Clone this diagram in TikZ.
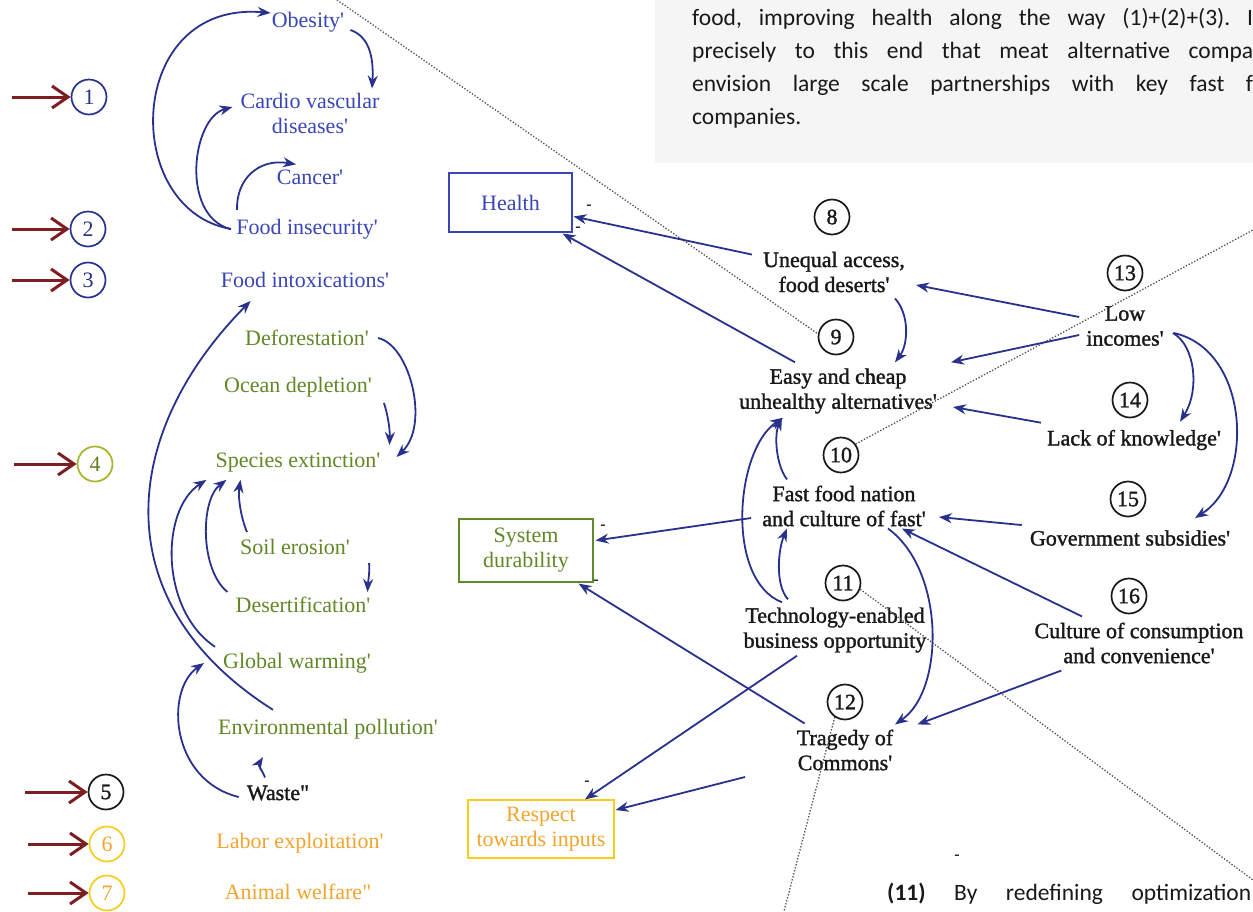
\documentclass[tikz,border=0pt]{standalone}
\usepackage{fontspec}
\setmainfont{Liberation Serif}[Ligatures=TeXOff]
\newfontfamily\heavyserif{Liberation Serif}[Ligatures=TeXOff, FakeBold=1.4]
\newfontfamily\parafont{Carlito}[Ligatures=TeXOff]
\usetikzlibrary{arrows.meta}

\definecolor{navy}{RGB}{40,50,140}
\definecolor{lblblue}{RGB}{58,70,182}
\definecolor{lblgreen}{RGB}{98,135,38}
\definecolor{boxgreen}{RGB}{95,140,40}
\definecolor{circgreen}{RGB}{165,180,40}
\definecolor{digitgreen}{RGB}{105,125,35}
\definecolor{lblorange}{RGB}{242,165,45}
\definecolor{circyellow}{RGB}{245,205,30}
\definecolor{darkred}{RGB}{125,30,35}
\definecolor{ink}{RGB}{25,25,25}
\definecolor{dotgray}{RGB}{80,80,80}

\tikzset{
  lbl/.style={inner sep=0pt, font=\fontsize{22}{25}\selectfont, align=center},
  cause/.style={lbl, text=ink, font=\heavyserif\fontsize{22}{25}\selectfont},
  num/.style={circle, draw, line width=1.7pt, minimum size=35pt, inner sep=0pt,
              font=\fontsize{22}{25}\selectfont},
  knum/.style={num, draw=ink, text=ink, font=\heavyserif\fontsize{22}{25}\selectfont},
  infl/.style={draw=navy, line width=1.8pt, -{Stealth[length=13pt,width=10pt]}},
  entry/.style={draw=darkred, line width=3pt, -{Straight Barb[length=16pt,width=22pt]}},
  outcome/.style={draw, line width=1.2pt, inner sep=0pt, font=\fontsize{22}{25}\selectfont,
                  align=center},
  link/.style={draw=dotgray, line width=1.3pt, dash pattern=on 1.3pt off 1.8pt},
  minus/.style={inner sep=0pt, text=ink, font=\bfseries\fontsize{16}{16}\selectfont},
  para/.style={inner sep=0pt, anchor=base west, text=ink,
               font=\parafont\frenchspacing\fontsize{23.5}{28}\selectfont},
}

\begin{document}
\begin{tikzpicture}[x=1pt, y=-1pt]
\useasboundingbox (0,0) rectangle (1253,911);
\clip (0,0) rectangle (1253,911);
\fill[white] (0,0) rectangle (1253,911);

% ---------- running text of the page ----------
\fill[black!4] (655,0) rectangle (1253,163);
\node[para] (p1) at (692,25) {\makebox[561pt][s]{food, improving health along the way (1)+(2)+(3). I}};
\node[para] (p2) at (692,58) {\makebox[561pt][s]{precisely to this end that meat alternative compa}};
\node[para] (p3) at (692,91) {\makebox[561pt][s]{envision large scale partnerships with key fast f}};
\node[para] (p4) at (692,124) {companies.};
\node[para] (p5) at (887,900) {\makebox[364pt][s]{\textbf{(11)} By redefining optimization}};

% ---------- left column: numbered entry points ----------
\node[num, draw=navy, text=navy] (c1) at (89,97) {1};
\node[num, draw=navy, text=navy] (c2) at (88,229) {2};
\node[num, draw=navy, text=navy] (c3) at (88,280) {3};
\node[num, draw=circgreen, text=digitgreen] (c4) at (95,464) {4};
\node[knum] (c5) at (106,792) {5};
\node[num, draw=circyellow, text=lblorange] (c6) at (107,844) {6};
\node[num, draw=circyellow, text=lblorange] (c7) at (107,893) {7};

\coordinate (r1) at (12,97);
\coordinate (r2) at (12,229);
\coordinate (r3) at (12,280);
\coordinate (r4) at (14,464);
\coordinate (r5) at (25,792);
\coordinate (r6) at (28,844);
\coordinate (r7) at (28,893);
\draw[entry] (r1) -- (c1.west);
\draw[entry] (r2) -- (c2.west);
\draw[entry] (r3) -- (c3.west);
\draw[entry] (r4) -- (c4.west);
\draw[entry] (r5) -- (c5.west);
\draw[entry] (r6) -- (c6.west);
\draw[entry] (r7) -- (c7.west);

% ---------- left column: effects ----------
\node[lbl, text=lblblue] (ob) at (308,22) {Obesity'};
\node[lbl, text=lblblue] (cv) at (310,113) {Cardio vascular\\diseases'};
\node[lbl, text=lblblue] (ca) at (310,177) {Cancer'};
\node[lbl, text=lblblue] (fi) at (307,229) {Food insecurity'};
\node[lbl, text=lblblue] (fx) at (305,280) {Food intoxications'};
\node[lbl, text=lblgreen] (df) at (307,338) {Deforestation'};
\node[lbl, text=lblgreen] (od) at (298,387) {Ocean depletion'};
\node[lbl, text=lblgreen] (se) at (298,463) {Species extinction'};
\node[lbl, text=lblgreen] (so) at (295,547) {Soil erosion'};
\node[lbl, text=lblgreen] (ds) at (303,605) {Desertification'};
\node[lbl, text=lblgreen] (gw) at (297,663) {Global warming'};
\node[lbl, text=lblgreen] (ep) at (328,729) {Environmental pollution'};
\node[cause] (wa) at (278,793) {Waste"};
\node[lbl, text=lblorange] (le) at (300,843) {Labor exploitation'};
\node[lbl, text=lblorange] (aw) at (298,892) {Animal welfare"};

% health links
\draw[infl] ([shift={(-5,0)}]fi.west) .. controls (120,210) and (125,0) .. ([shift={(-1,-9)}]ob.west);
\draw[infl] ([shift={(6,8)}]ob.east) .. controls (368,36) and (374,55) .. ([shift={(62,-4)}]cv.north);
\draw[infl] ([shift={(-6,0)}]fi.west) .. controls (180,215) and (192,118) .. ([shift={(-8,-6)}]cv.west);
\draw[infl] ([shift={(1,-9)}]fi.north west) .. controls (236,180) and (258,158) .. ([shift={(-14,-5)}]ca.north);

% environment links
\draw[infl] ([shift={(-55,-9)}]ep.north) .. controls (100,600) and (123,430) .. ([shift={(30,13)}]fx.south west);
\draw[infl] ([shift={(9,0)}]df.east) .. controls (410,345) and (430,425) .. ([shift={(16,-6)}]se.east);
\draw[infl] ([shift={(12,16)}]od.east) .. controls (388,415) and (390,430) .. ([shift={(9,-18)}]se.east);
\draw[infl] ([shift={(7,-7)}]so.north west) .. controls (240,515) and (238,495) .. ([shift={(25,7)}]se.south west);
\draw[infl] ([shift={(-8,-5)}]ds.north west) .. controls (200,570) and (200,500) .. ([shift={(11,7)}]se.south west);
\draw[infl] ([shift={(-8,-6)}]gw.north west) .. controls (160,610) and (160,510) .. ([shift={(-9,7)}]se.south west);
\draw[infl] ([shift={(19,16)}]so.east) .. controls (370,572) and (368,582) .. ([shift={(-3,-5)}]ds.north east);
\draw[infl] ([shift={(-8,4)}]wa.west) .. controls (170,780) and (165,690) .. ([shift={(-19,0)}]gw.west);
\draw[infl] ([shift={(-13,-8)}]wa.north) .. controls (262,770) and (258,765) .. ([shift={(45,18)}]ep.south west);

% ---------- outcome boxes ----------
\node[outcome, draw=lblblue, text=lblblue, minimum width=123pt, minimum height=59pt] (health) at (510.5,202.5) {Health};
\node[outcome, draw=boxgreen, text=lblgreen, minimum width=134pt, minimum height=63pt] (sd) at (526,550.5) {System\\durability};
\node[outcome, draw=circyellow, text=lblorange, minimum width=146pt, minimum height=58pt] (rt) at (541,829) {Respect\\towards inputs};

\node[minus] (m1) at (589,207) {-};
\node[minus] (m2) at (578,229) {-};
\node[minus] (m3) at (603,527) {-};
\node[minus] (m4) at (596,582) {-};
\node[minus] (m5) at (587,783) {-};
\node[minus] (m6) at (957,857) {-};

% ---------- right side: root causes ----------
\node[knum] (n8) at (832,217) {8};
\node[knum] (n9) at (836,337) {9};
\node[knum] (n10) at (841,455) {10};
\node[knum] (n11) at (843,583) {11};
\node[knum] (n12) at (845,702) {12};
\node[knum] (n13) at (1125,273) {13};
\node[knum] (n14) at (1130,400) {14};
\node[knum] (n15) at (1128,499) {15};
\node[knum] (n16) at (1129,596) {16};

\node[cause] (ua) at (834,272) {Unequal access,\\food deserts'};
\node[cause] (ec) at (838,391) {Easy and cheap\\unhealthy alternatives'};
\node[cause] (ff) at (844,506) {Fast food nation\\and culture of fast'};
\node[cause] (te) at (835,630) {Technology-enabled\\business opportunity};
\node[cause] (tc) at (845,750) {Tragedy of\\Commons'};
\node[cause] (li) at (1125,326) {Low\\incomes'};
\node[cause] (lk) at (1134,440) {Lack of knowledge'};
\node[cause] (gs) at (1130,538) {Government subsidies'};
\node[cause] (cc) at (1139,643) {Culture of consumption\\and convenience'};

% dotted call-out lines
\coordinate (t1) at (337,0);
\coordinate (t2) at (1253,230);
\coordinate (t3) at (1253,880);
\coordinate (t4) at (783,915);
\draw[link] (t1) -- (n9.170);
\draw[link] (n10.37) -- (t2);
\draw[link] (n11.-20) -- (t3);
\draw[link] (n12.-124) -- (t4);

% causal links
\draw[infl] ([shift={(-11,3)}]ua.north west) -- ([shift={(1,14)}]health.east);
\draw[infl] ([shift={(-43,-6)}]ec.north) -- ([shift={(-10,1)}]health.south east);
\draw[infl] ([shift={(61,6)}]ua.south) .. controls (910,315) and (908,345) .. ([shift={(57,-6)}]ec.north);
\draw[infl] ([shift={(-7,-9)}]li.west) -- ([shift={(11,13)}]ua.east);
\draw[infl] ([shift={(-7,9)}]li.west) -- ([shift={(14,-6)}]ec.north east);
\draw[infl] ([shift={(-6,-7)}]lk.north west) -- ([shift={(16,16)}]ec.east);
\draw[infl] ([shift={(9,7)}]li.east) .. controls (1195,345) and (1200,390) .. ([shift={(46,-8)}]lk.north);
\draw[infl] ([shift={(10,7)}]li.east) .. controls (1250,350) and (1255,480) .. ([shift={(65,-12)}]gs.north);
\draw[infl] ([shift={(-8,-5)}]gs.north west) -- ([shift={(13,11)}]ff.east);
\draw[infl] ([shift={(-57,-6)}]cc.north) -- ([shift={(-24,2)}]ff.south east);
\draw[infl] ([shift={(44,2)}]ff.south) .. controls (945,570) and (945,690) .. ([shift={(50,-5)}]tc.north);
\draw[infl] ([shift={(27,7)}]cc.south west) -- ([shift={(24,-5)}]tc.north east);
\draw[infl] ([shift={(-57,-6)}]ff.north) .. controls (776,465) and (774,435) .. ([shift={(-56,4)}]ec.south);
\draw[infl] ([shift={(-53,-5)}]te.north) .. controls (725,580) and (735,450) .. ([shift={(-55,4)}]ec.south);
\draw[infl] ([shift={(-47,-8)}]te.north) .. controls (775,585) and (778,550) .. ([shift={(-57,2)}]ff.south);
\draw[infl] ([shift={(-11,12)}]ff.west) -- ([shift={(2,-10)}]sd.east);
\draw[infl] ([shift={(8,-6)}]tc.north west) -- ([shift={(-15,1)}]sd.south east);
\draw[infl] ([shift={(-38,3)}]te.south) -- ([shift={(44,0)}]rt.north);
\coordinate (loose) at (745,777);
\draw[infl] (loose) -- ([shift={(1,-19)}]rt.east);
\end{tikzpicture}
\end{document}
